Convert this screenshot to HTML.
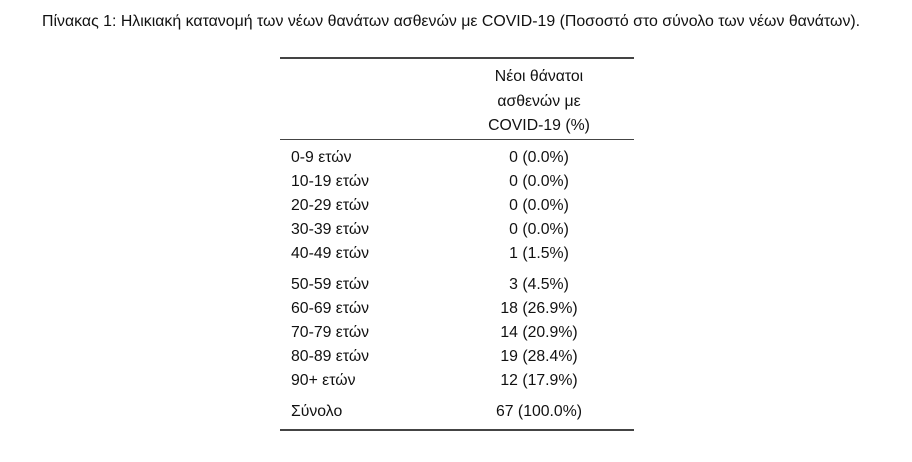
<!DOCTYPE html>
<html><head><meta charset="utf-8">
<style>
body{margin:0;width:912px;height:462px;background:#fff;position:relative;font-family:"Liberation Sans","DejaVu Sans",sans-serif;color:#111;font-size:15.8px;overflow:hidden}
.a{position:absolute;white-space:nowrap;line-height:18px}
.c{position:absolute;width:200px;left:439px;text-align:center;white-space:nowrap;line-height:18px}
.l{position:absolute;left:280px;width:354px;height:2px;background:#444}
</style></head><body>
<div class="a" style="left:42px;top:13px;font-size:15.9px">Πίνακας 1: Ηλικιακή κατανομή των νέων θανάτων ασθενών με COVID-19 (Ποσοστό στο σύνολο των νέων θανάτων).</div>
<div class="l" style="top:57px"></div>
<div class="c" style="top:68px">Νέοι θάνατοι</div>
<div class="c" style="top:93px">ασθενών με</div>
<div class="c" style="top:117px">COVID-19 (%)</div>
<div class="l" style="top:139px;height:1px"></div>
<div id="rows"></div>
<div class="l" style="top:429px"></div>
<script>
const ages=["0-9 ετών","10-19 ετών","20-29 ετών","30-39 ετών","40-49 ετών","50-59 ετών","60-69 ετών","70-79 ετών","80-89 ετών","90+ ετών","Σύνολο"];
const values=["0 (0.0%)","0 (0.0%)","0 (0.0%)","0 (0.0%)","1 (1.5%)","3 (4.5%)","18 (26.9%)","14 (20.9%)","19 (28.4%)","12 (17.9%)","67 (100.0%)"];
const tops=[149,173,197,221,245,276,300,324,348,372,403];
const root=document.getElementById('rows');
ages.forEach((a,i)=>{
  const l=document.createElement('div');l.className='a';l.style.left='291px';l.style.top=tops[i]+'px';l.textContent=a;
  
  
  root.appendChild(l);
  const v=document.createElement('div');v.className='c';v.style.top=tops[i]+'px';v.textContent=values[i];
  
  
  root.appendChild(v);
});
</script>
</body></html>
